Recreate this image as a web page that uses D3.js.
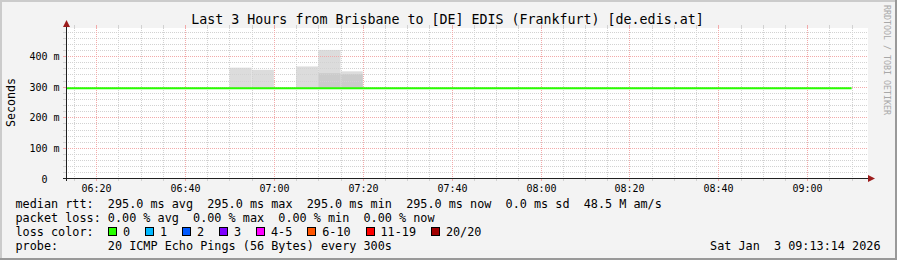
<!DOCTYPE html>
<html>
<head>
<meta charset="utf-8">
<script src="https://cdn.jsdelivr.net/npm/d3@7"></script>
<style>
    html, body { margin: 0; padding: 0; background: #f3f3f3; }
    svg { display: block; }
    text { font-family: 'DejaVu Sans Mono', monospace; white-space: pre; fill: #000; }
</style>
</head>
<body>
<div id="chart"></div>
<script>
/* values */
const title = 'Last 3 Hours from Brisbane to [DE] EDIS (Frankfurt) [de.edis.at]';
const day = '2026-01-03T';
const rangeStart = '06:13:14';
const rangeEnd = '09:13:14';
const firstStep = '06:10:00';
const stepSeconds = 300;

/* median rtt in ms, one value per 5 minute step */
const median = [
    295, 295, 295, 295, 295, 295, 295, 295, 295, 295, 295, 295,
    295, 295, 295, 295, 295, 295, 295, 295, 295, 295, 295, 295,
    295, 295, 295, 295, 295, 295, 295, 295, 295, 295, 295, 295
];

/* smoke: steps where some pings came back slower than the median */
const smokeStart = ['06:50:00', '06:55:00', '07:05:00', '07:10:00', '07:15:00'];
const smokeMax = [362, 355, 366, 420, 350];
const smokeDense = [null, null, null, 344, 341];

const yTicks = [0, 100, 200, 300, 400];
const yTickLabels = ['  0  ', '100 m', '200 m', '300 m', '400 m'];

const rttStats = ['295.0 ms avg', '295.0 ms max', '295.0 ms min', '295.0 ms now', '0.0 ms sd', '48.5 M am/s'];
const lossStats = ['0.00 % avg', '0.00 % max', '0.00 % min', '0.00 % now'];
const lossLabels = ['0', '1', '2', '3', '4-5', '6-10', '11-19', '20/20'];
const lossColors = ['#26ff00', '#00b8ff', '#0059ff', '#7e00ff', '#ff00ff', '#ff5500', '#ff0000', '#a10000'];
const probe = '20 ICMP Echo Pings (56 Bytes) every 300s';
const stamp = 'Sat Jan  3 09:13:14 2026';
const watermark = 'RRDTOOL / TOBI OETIKER';

const toDate = (s) => new Date(day + s + 'Z');
const crisp = (v) => Math.round(v) + 0.5;

class SmokeGraph {
    constructor(selector) {
        this.width = 897;
        this.height = 260;
        this.charW = 7.1;

        this.svg = d3.select(selector)
            .append('svg')
            .attr('width', this.width)
            .attr('height', this.height);

        this.x = d3.scaleUtc()
            .domain([toDate(rangeStart), toDate(rangeEnd)])
            .range([66, 866]);
        this.y = d3.scaleLinear()
            .domain([0, 490])
            .range([178.5, 28.5]);

        this.drawFrame();
        this.drawSmoke();
        this.drawGrid();
        this.drawMedian();
        this.drawAxes();
        this.drawLegend();
    }

    drawFrame() {
        const svg = this.svg;
        svg.append('rect')
            .attr('width', this.width)
            .attr('height', this.height)
            .attr('fill', '#f3f3f3');
        svg.append('path')
            .attr('d', `M0,0H${this.width}V2H2V${this.height}H0Z`)
            .attr('fill', '#cbcbcb');
        svg.append('path')
            .attr('d', `M${this.width},${this.height}H0V${this.height - 2}H${this.width - 2}V0H${this.width}Z`)
            .attr('fill', '#999999');

        /* plot canvas */
        svg.append('rect')
            .attr('x', 66)
            .attr('y', 28)
            .attr('width', 802)
            .attr('height', 150)
            .attr('fill', '#ffffff');

        svg.append('defs').append('clipPath')
            .attr('id', 'plot-clip')
            .append('rect')
            .attr('x', 66)
            .attr('y', 28)
            .attr('width', 800)
            .attr('height', 151);

        svg.append('text')
            .attr('x', this.width / 2 - 1)
            .attr('y', 24)
            .attr('text-anchor', 'middle')
            .style('font-size', '13.3px')
            .text(title);

        svg.append('text')
            .attr('transform', 'translate(884,5) rotate(90)')
            .style('font-size', '8.3px')
            .style('fill', '#a8a8a8')
            .text(watermark);
    }

    drawSmoke() {
        const x = this.x, y = this.y;
        const g = this.svg.append('g')
            .attr('class', 'smoke')
            .attr('clip-path', 'url(#plot-clip)');
        const base = d3.min(median);
        const steps = smokeStart.map((s, i) => ({
            t0: toDate(s),
            t1: new Date(toDate(s).getTime() + stepSeconds * 1000),
            max: smokeMax[i],
            dense: smokeDense[i]
        }));

        g.selectAll('.smoke-light')
            .data(steps)
            .enter().append('rect')
            .attr('class', 'smoke-light')
            .attr('x', (d) => x(d.t0))
            .attr('width', (d) => x(d.t1) - x(d.t0))
            .attr('y', (d) => y(d.max))
            .attr('height', (d) => y(base) - y(d.max))
            .attr('fill', '#dcdcdc');

        g.selectAll('.smoke-dense')
            .data(steps.filter((d) => d.dense !== null))
            .enter().append('rect')
            .attr('class', 'smoke-dense')
            .attr('x', (d) => x(d.t0))
            .attr('width', (d) => x(d.t1) - x(d.t0))
            .attr('y', (d) => y(d.dense))
            .attr('height', (d) => y(base) - y(d.dense))
            .attr('fill', '#cbcbcb');
    }

    drawGrid() {
        const x = this.x, y = this.y;
        const g = this.svg.append('g').attr('class', 'grid');
        const minorCol = '#d2d2d2';
        const majorCol = '#f2aaaa';

        const minorY = d3.range(0, 490, 20).filter((v) => v % 100 !== 0);
        const minorX = x.ticks(d3.utcMinute.every(5))
            .filter((t) => t.getUTCMinutes() % 20 !== 0);
        const majorX = x.ticks(d3.utcMinute.every(20));

        const hLines = (vals, col) => {
            vals.forEach((v) => {
                const yy = crisp(y(v));
                g.append('line')
                    .attr('x1', 66).attr('x2', 868)
                    .attr('y1', yy).attr('y2', yy)
                    .attr('stroke', col)
                    .attr('stroke-dasharray', '1,1');
                g.append('line')
                    .attr('x1', 63).attr('x2', 66)
                    .attr('y1', yy).attr('y2', yy)
                    .attr('stroke', col);
            });
        };
        const vLines = (vals, col) => {
            vals.forEach((t) => {
                const xx = crisp(x(t));
                g.append('line')
                    .attr('x1', xx).attr('x2', xx)
                    .attr('y1', 28).attr('y2', 178)
                    .attr('stroke', col)
                    .attr('stroke-dasharray', '1,1');
                g.append('line')
                    .attr('x1', xx).attr('x2', xx)
                    .attr('y1', 25).attr('y2', 28)
                    .attr('stroke', col);
                g.append('line')
                    .attr('x1', xx).attr('x2', xx)
                    .attr('y1', 178).attr('y2', 181)
                    .attr('stroke', col);
            });
        };

        hLines(minorY, minorCol);
        vLines(minorX, minorCol);
        hLines(yTicks.filter((v) => v > 0), majorCol);
        vLines(majorX, majorCol);
    }

    drawMedian() {
        const x = this.x, y = this.y;
        const start = toDate(firstStep).getTime();
        const points = median.map((v, i) => [start + i * stepSeconds * 1000, v]);
        points.push([start + median.length * stepSeconds * 1000, median[median.length - 1]]);

        const line = d3.line()
            .x((d) => x(new Date(d[0])))
            .y((d) => y(d[1]))
            .curve(d3.curveStepAfter);

        this.svg.append('path')
            .attr('clip-path', 'url(#plot-clip)')
            .attr('d', line(points))
            .attr('fill', 'none')
            .attr('stroke', lossColors[0])
            .attr('stroke-width', 2);
    }

    drawAxes() {
        const x = this.x, y = this.y;
        const svg = this.svg;
        const axisCol = '#202020';
        const arrowCol = '#9c1c1c';

        svg.append('line')
            .attr('x1', 66.5).attr('x2', 66.5)
            .attr('y1', 181).attr('y2', 25)
            .attr('stroke', axisCol);
        svg.append('line')
            .attr('x1', 63).attr('x2', 869)
            .attr('y1', 178.5).attr('y2', 178.5)
            .attr('stroke', axisCol);

        svg.append('path')
            .attr('d', 'M63,27L70,27L66.5,20Z')
            .attr('fill', arrowCol);
        svg.append('path')
            .attr('d', 'M868,175L868,182L875,178.5Z')
            .attr('fill', arrowCol);

        /* y labels, 5 char wide field like rrdtool */
        svg.append('g')
            .selectAll('text')
            .data(yTicks)
            .enter().append('text')
            .attr('x', 29.5)
            .attr('y', (d) => crisp(y(d)) + 3.5)
            .style('font-size', '10px')
            .text((d, i) => yTickLabels[i]);

        svg.append('g')
            .selectAll('text')
            .data(x.ticks(d3.utcMinute.every(20)))
            .enter().append('text')
            .attr('x', (d) => crisp(x(d)))
            .attr('y', 191.5)
            .attr('text-anchor', 'middle')
            .style('font-size', '10px')
            .text(d3.utcFormat('%H:%M'));

        svg.append('text')
            .attr('transform', 'translate(14.5,102.5) rotate(-90)')
            .attr('text-anchor', 'middle')
            .style('font-size', '11.6px')
            .text('Seconds');
    }

    drawLegend() {
        const svg = this.svg;
        const cw = this.charW;
        const left = 15.5;
        const fs = '11.8px';

        const row = (txt, yy) => svg.append('text')
            .attr('x', left)
            .attr('y', yy)
            .style('font-size', fs)
            .text(txt);

        row('median rtt:  ' + rttStats.join('  '), 208);
        row('packet loss: ' + lossStats.join('  '), 222);
        row('loss color:', 236);
        row('probe:       ' + probe, 250);

        svg.append('text')
            .attr('x', 880.5)
            .attr('y', 250)
            .attr('text-anchor', 'end')
            .style('font-size', fs)
            .text(stamp);

        /* loss color swatches */
        let bx = 108;
        lossLabels.forEach((lbl, i) => {
            svg.append('rect')
                .attr('x', Math.round(bx) + 0.5)
                .attr('y', 227.5)
                .attr('width', 8)
                .attr('height', 8)
                .attr('fill', lossColors[i])
                .attr('stroke', '#000');
            svg.append('text')
                .attr('x', bx + 15)
                .attr('y', 236)
                .style('font-size', fs)
                .text(lbl);
            bx += 15 + lbl.length * cw + 14.9;
        });
    }
}

new SmokeGraph('#chart');
</script>
</body>
</html>
